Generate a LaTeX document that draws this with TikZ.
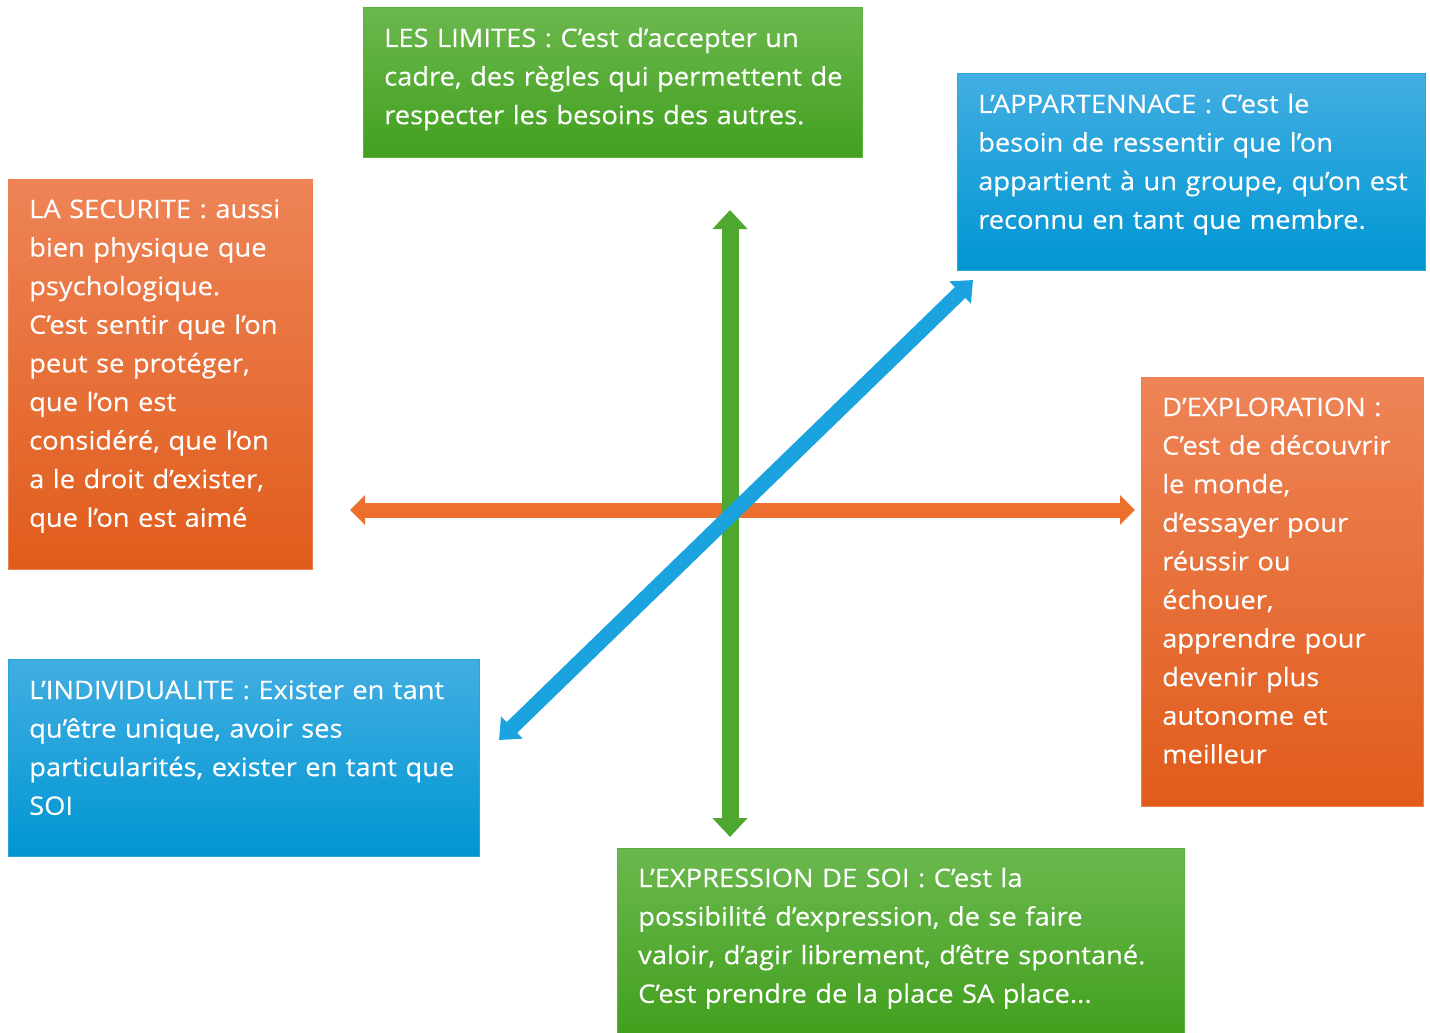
\documentclass[tikz,border=0pt]{standalone}
\usepackage{fontspec}
\setmainfont{Open Sans}[FakeStretch=1.07,FakeBold=0.25]
\usetikzlibrary{arrows.meta}
\definecolor{gTop}{HTML}{6BB84E}
\definecolor{gBot}{HTML}{42A01E}
\definecolor{gLine}{HTML}{5DB03C}
\definecolor{bTop}{HTML}{42AEE2}
\definecolor{bBot}{HTML}{0096D2}
\definecolor{bLine}{HTML}{2AA4DC}
\definecolor{oTop}{HTML}{EE8457}
\definecolor{oBot}{HTML}{E05C1B}
\definecolor{oLine}{HTML}{EE8050}
\definecolor{gArr}{HTML}{4EA72E}
\definecolor{oArr}{HTML}{EC6F2D}
\definecolor{bArr}{HTML}{1AA3DE}
\tikzset{
  card/.style={anchor=north west, inner sep=0pt, outer sep=0pt, line width=1pt},
  greencard/.style={card, draw=gLine, top color=gTop, bottom color=gBot},
  bluecard/.style={card, draw=bLine, top color=bTop, bottom color=bBot},
  orangecard/.style={card, draw=oLine, top color=oTop, bottom color=oBot},
  cardtext/.style={anchor=base west, inner sep=0pt, text=white, align=left,
    text width=560pt, font=\fontsize{25.5}{38.6}\selectfont},
  garrow/.style={draw=gArr, line width=17pt, {Triangle[width=34pt,length=19pt]}-{Triangle[width=34pt,length=19pt]}},
  oarrow/.style={draw=oArr, line width=15pt, {Triangle[width=29pt,length=15pt]}-{Triangle[width=29pt,length=15pt]}},
  barrow/.style={draw=bArr, line width=15pt, {Triangle[width=30pt,length=18pt]}-{Triangle[width=30pt,length=18pt]}},
}
\begin{document}
\begin{tikzpicture}[x=1pt,y=-1pt]
\useasboundingbox (0,0) rectangle (1430,1033);
% boxes
\node[greencard, minimum width=499pt, minimum height=149pt] (limB) at (363,8) {};
\node[bluecard, minimum width=468pt, minimum height=196pt] (appB) at (957,74) {};
\node[orangecard, minimum width=304pt, minimum height=390pt] (secB) at (8,179) {};
\node[orangecard, minimum width=282pt, minimum height=429pt] (expB) at (1141,377) {};
\node[bluecard, minimum width=471pt, minimum height=197pt] (indB) at (8,659) {};
\node[greencard, minimum width=567pt, minimum height=185pt] (soiB) at (617,848) {};
% texts
\node[cardtext] (limT) at (384,47) {LES LIMITES : C’est d’accepter un\\cadre, des règles qui permettent de\\respecter les besoins des autres.};
\node[cardtext] (appT) at (978,113) {L’APPARTENNACE : C’est le\\besoin de ressentir que l’on\\appartient à un groupe, qu’on est\\reconnu en tant que membre.};
\node[cardtext] (secT) at (29,218) {LA SECURITE : aussi\\bien physique que\\psychologique.\\C’est sentir que l’on\\peut se protéger,\\que l’on est\\considéré, que l’on\\a le droit d’exister,\\que l’on est aimé};
\node[cardtext] (expT) at (1162,416) {D’EXPLORATION :\\C’est de découvrir\\le monde,\\d’essayer pour\\réussir ou\\échouer,\\apprendre pour\\devenir plus\\autonome et\\meilleur};
\node[cardtext] (indT) at (29,699) {L’INDIVIDUALITE : Exister en tant\\qu’être unique, avoir ses\\particularités, exister en tant que\\SOI};
\node[cardtext] (soiT) at (638,887) {L’EXPRESSION DE SOI : C’est la\\possibilité d’expression, de se faire\\valoir, d’agir librement, d’être spontané.\\C’est prendre de la place SA place...};
% arrows
\coordinate (oW) at (350,510);
\coordinate (oE) at (1135,510);
\coordinate (gN) at (730,210);
\coordinate (gS) at (730,837);
\coordinate (bSW) at (499,740);
\coordinate (bNE) at (973,280);
\draw[oarrow] (oW) -- (oE);
\draw[garrow] (gN) -- (gS);
\draw[barrow] (bSW) -- (bNE);
\end{tikzpicture}
\end{document}
